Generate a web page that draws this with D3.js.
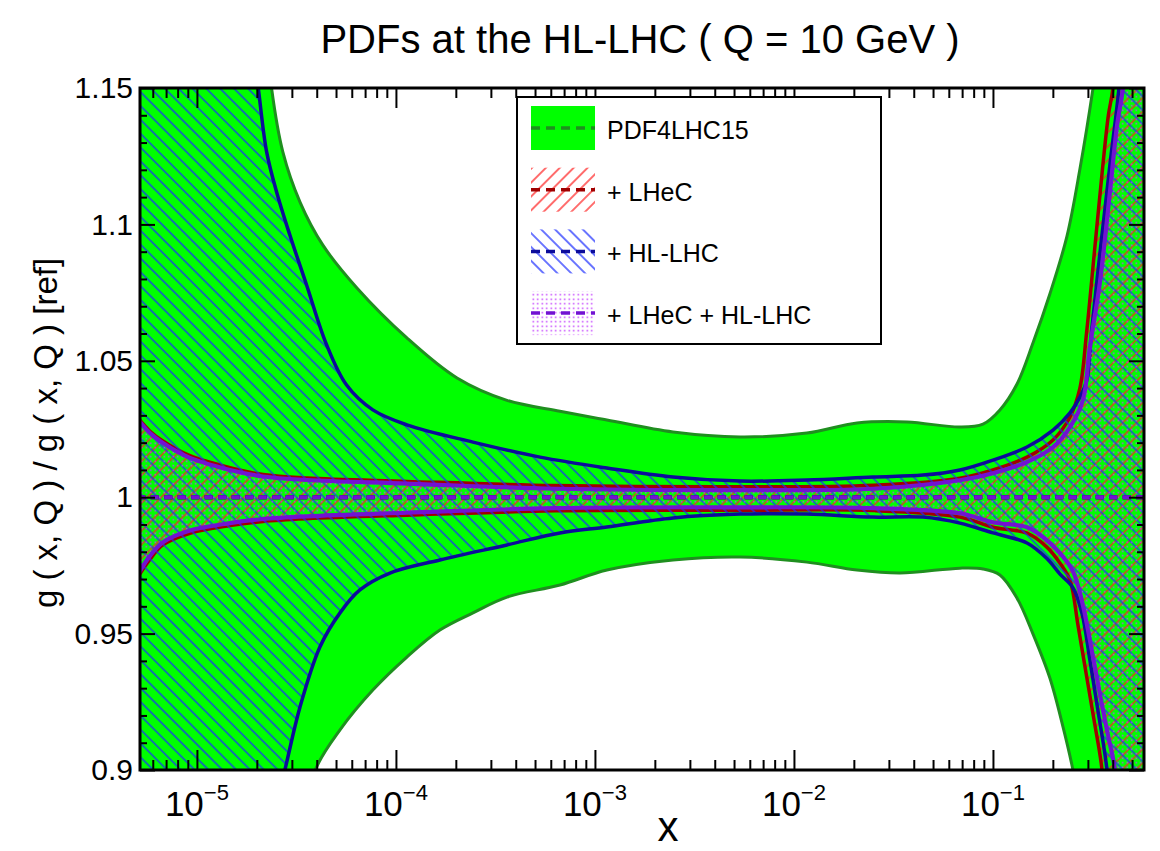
<!DOCTYPE html>
<html><head><meta charset="utf-8">
<script src="https://cdn.jsdelivr.net/npm/d3@7"></script>
<style>body{margin:0;background:#fff} text{font-family:"Liberation Sans",Arial,Helvetica,sans-serif;fill:#000}</style>
</head><body><svg id="c" width="1160" height="851"></svg>
<script>
// ---------- data (x given as log10(x), y = ratio to reference) ----------
const title = "PDFs at the HL-LHC ( Q = 10 GeV )";
const yLabel = "g ( x, Q ) / g ( x, Q ) [ref]";
const xLabel = "x";
const seriesNames = ["PDF4LHC15", "+ LHeC", "+ HL-LHC", "+ LHeC + HL-LHC"];
const xTickExponents = [-5, -4, -3, -2, -1];
const yTicks = [0.9, 0.95, 1, 1.05, 1.1, 1.15];
const yTickLabels = ["0.9", "0.95", "1", "1.05", "1.1", "1.15"];

const pdf4lhcUpper = [[-5.30,1.20],[-4.69,1.20],[-4.625,1.15],[-4.568,1.1265],[-4.482,1.1082],[-4.367,1.0924],[-4.196,1.0767],[-3.945,1.0584],[-3.693,1.0437],[-3.442,1.0355],[-3.176,1.0315],[-2.94,1.0283],[-2.608,1.0239],[-2.271,1.0221],[-1.935,1.0235],[-1.683,1.0272],[-1.432,1.0276],[-1.166,1.0257],[-1.05,1.0268],[-0.965,1.032],[-0.879,1.0415],[-0.799,1.0565],[-0.714,1.0745],[-0.628,1.0957],[-0.563,1.1203],[-0.497,1.15],[-0.46,1.17],[-0.2,1.17]];
const pdf4lhcLower = [[-5.30,0.88],[-4.46,0.88],[-4.405,0.90],[-4.281,0.9147],[-4.116,0.9293],[-3.945,0.9414],[-3.779,0.9513],[-3.613,0.9576],[-3.442,0.9634],[-3.176,0.9678],[-2.94,0.9733],[-2.608,0.9770],[-2.271,0.9781],[-1.935,0.9762],[-1.683,0.9733],[-1.467,0.9722],[-1.166,0.9740],[-1.05,0.9737],[-0.965,0.9715],[-0.879,0.9630],[-0.799,0.9499],[-0.714,0.9337],[-0.648,0.9158],[-0.598,0.90],[-0.55,0.88],[-0.2,0.88]];

const lhecUpper = [[-5.29,1.0285],[-5.236,1.0242],[-5.171,1.0206],[-5.035,1.0152],[-4.834,1.0108],[-4.668,1.0083],[-4.447,1.0070],[-3.945,1.0058],[-3.2,1.0043],[-2.27,1.0038],[-1.6,1.0044],[-1.166,1.0070],[-1.0,1.0100],[-0.829,1.0147],[-0.698,1.0210],[-0.613,1.0294],[-0.563,1.040],[-0.53,1.06],[-0.49,1.09],[-0.45,1.12],[-0.42,1.14],[-0.397,1.15],[-0.385,1.17],[-0.2,1.17]];
const lhecLower = [[-5.29,0.9715],[-5.236,0.9772],[-5.171,0.9825],[-5.035,0.9868],[-4.834,0.9896],[-4.668,0.9911],[-4.447,0.9921],[-3.945,0.9934],[-3.2,0.9950],[-2.27,0.9952],[-1.6,0.9951],[-1.166,0.9927],[-1.0,0.9890],[-0.829,0.9868],[-0.729,0.9817],[-0.663,0.9758],[-0.613,0.9696],[-0.573,0.9532],[-0.533,0.9359],[-0.492,0.9183],[-0.452,0.90],[-0.44,0.88],[-0.2,0.88]];

const hllhcUpper = [[-5.30,1.17],[-4.73,1.17],[-4.692,1.15],[-4.650,1.1267],[-4.600,1.112],[-4.533,1.0961],[-4.449,1.0778],[-4.348,1.0558],[-4.248,1.0411],[-4.116,1.032],[-3.945,1.0265],[-3.613,1.0202],[-3.276,1.0147],[-2.94,1.0107],[-2.608,1.0074],[-2.271,1.0059],[-1.935,1.0063],[-1.603,1.0074],[-1.352,1.0081],[-1.166,1.01],[-1.0,1.0136],[-0.829,1.0184],[-0.698,1.0246],[-0.613,1.0309],[-0.563,1.0367],[-0.528,1.043],[-0.503,1.062],[-0.457,1.093],[-0.412,1.122],[-0.367,1.15],[-0.35,1.17],[-0.2,1.17]];
const hllhcLower = [[-5.30,0.88],[-4.625,0.88],[-4.558,0.90],[-4.482,0.9231],[-4.382,0.9451],[-4.281,0.9576],[-4.181,0.9660],[-4.030,0.9722],[-3.779,0.9770],[-3.442,0.9825],[-3.176,0.9869],[-2.94,0.9891],[-2.608,0.9924],[-2.271,0.9938],[-1.935,0.9938],[-1.603,0.9927],[-1.352,0.9927],[-1.166,0.9905],[-1.0,0.9869],[-0.829,0.9832],[-0.729,0.9775],[-0.663,0.9718],[-0.598,0.9668],[-0.553,0.9575],[-0.513,0.9403],[-0.477,0.9238],[-0.427,0.90],[-0.41,0.88],[-0.2,0.88]];

const bothUpper = [[-5.29,1.0279],[-5.236,1.0235],[-5.171,1.0199],[-5.035,1.0144],[-4.834,1.0100],[-4.668,1.0076],[-4.447,1.0063],[-3.945,1.0050],[-3.2,1.0031],[-2.27,1.0026],[-1.6,1.0031],[-1.166,1.0062],[-1.0,1.0088],[-0.829,1.0129],[-0.698,1.0184],[-0.613,1.0257],[-0.548,1.0356],[-0.513,1.055],[-0.462,1.079],[-0.412,1.112],[-0.377,1.136],[-0.347,1.15],[-0.335,1.17],[-0.2,1.17]];
const bothLower = [[-5.29,0.9725],[-5.236,0.9785],[-5.171,0.9835],[-5.035,0.9878],[-4.834,0.9905],[-4.668,0.9920],[-4.447,0.9930],[-3.945,0.9943],[-3.2,0.9960],[-2.27,0.9963],[-1.6,0.9960],[-1.166,0.9941],[-1.0,0.9908],[-0.829,0.9890],[-0.749,0.9854],[-0.663,0.9795],[-0.598,0.9728],[-0.553,0.962],[-0.513,0.9477],[-0.462,0.9275],[-0.422,0.9128],[-0.387,0.90],[-0.375,0.88],[-0.2,0.88]];

const centralValues = [[-5.30,1.0],[-0.2,1.0]];

// ---------- layout ----------
const L = 140, R = 1144, T = 88, B = 770;
const svg = d3.select("#c");
const x = d3.scaleLog().domain([Math.pow(10,-5.286), Math.pow(10,-0.241)]).range([L, R]);
const y = d3.scaleLinear().domain([0.9, 1.15]).range([B, T]);

const defs = svg.append("defs");
defs.append("clipPath").attr("id","plotclip").append("rect")
  .attr("x",L).attr("y",T).attr("width",R-L).attr("height",B-T);
function hatch(id, angle, color){
  const s = 9.8;
  const p = defs.append("pattern").attr("id",id).attr("patternUnits","userSpaceOnUse")
    .attr("width",s).attr("height",s).attr("patternTransform",`rotate(${angle})`);
  p.append("line").attr("x1",s/2).attr("y1",-1).attr("x2",s/2).attr("y2",s+1)
    .attr("stroke",color).attr("stroke-width",1.3);
}
hatch("hatchRed", 45, "#ff2020");
hatch("hatchBlue", -45, "#1a2cff");
(function(){
  const p = defs.append("pattern").attr("id","dots").attr("patternUnits","userSpaceOnUse")
    .attr("width",4.5).attr("height",4.5);
  p.append("rect").attr("x",1.5).attr("y",1.5).attr("width",1.5).attr("height",1.5).attr("fill","#c13cff");
})();

const line = d3.line().x(d => x(Math.pow(10,d[0]))).y(d => y(d[1])).curve(d3.curveCatmullRom.alpha(0.5));
function bandPath(up, lo){
  const a = line(up), b = line(lo.slice().reverse());
  return a + "L" + b.slice(1) + "Z";
}

const plot = svg.append("g").attr("clip-path","url(#plotclip)");
const bands = [
  {up: pdf4lhcUpper, lo: pdf4lhcLower, fill: "#00ff00", edge: "#1f8f1f", w: 3},
  {up: lhecUpper, lo: lhecLower, fill: "url(#hatchRed)", edge: "#a00000", w: 3.5},
  {up: hllhcUpper, lo: hllhcLower, fill: "url(#hatchBlue)", edge: "#0c0c9a", w: 3.5},
  {up: bothUpper, lo: bothLower, fill: "url(#dots)", edge: "#7212d2", w: 4.2}
];
bands.forEach(b => {
  plot.append("path").attr("d", bandPath(b.up, b.lo)).attr("fill", b.fill).attr("stroke","none");
  plot.append("path").attr("d", line(b.up)).attr("fill","none").attr("stroke", b.edge).attr("stroke-width", b.w);
  plot.append("path").attr("d", line(b.lo)).attr("fill","none").attr("stroke", b.edge).attr("stroke-width", b.w);
});
bands.forEach(b => {
  plot.append("path").attr("d", d3.line().x(d => x(Math.pow(10,d[0]))).y(d => y(d[1]))(centralValues))
    .attr("fill","none").attr("stroke", b.edge).attr("stroke-width", 4).attr("stroke-dasharray","8,5.5");
});

// ---------- axes ----------
const xMajor = xTickExponents.map(e => Math.pow(10,e));
const xMinor = [];
for (let e = -6; e <= 0; e++) for (let k = 2; k <= 9; k++) {
  const v = k*Math.pow(10,e); if (v >= x.domain()[0] && v <= x.domain()[1]) xMinor.push(v);
}
const yMinor = [];
for (let i = 91; i <= 114; i++) if (i % 5 !== 0) yMinor.push(i/100);

function styleAxis(g){ g.select(".domain").remove(); g.selectAll(".tick line").attr("stroke","#000").attr("stroke-width",2); }
svg.append("g").attr("transform",`translate(0,${B})`).call(d3.axisBottom(x).tickValues(xMajor).tickSize(-20).tickFormat("")).call(styleAxis);
svg.append("g").attr("transform",`translate(0,${B})`).call(d3.axisBottom(x).tickValues(xMinor).tickSize(-10).tickFormat("")).call(styleAxis);
svg.append("g").attr("transform",`translate(0,${T})`).call(d3.axisTop(x).tickValues(xMajor).tickSize(-20).tickFormat("")).call(styleAxis);
svg.append("g").attr("transform",`translate(0,${T})`).call(d3.axisTop(x).tickValues(xMinor).tickSize(-10).tickFormat("")).call(styleAxis);
const yl = svg.append("g").attr("transform",`translate(${L},0)`)
  .call(d3.axisLeft(y).tickValues(yTicks).tickSize(-15).tickPadding(7).tickFormat((d,i) => yTickLabels[i])).call(styleAxis);
yl.selectAll(".tick text").attr("font-size",30).attr("font-family",null).attr("fill","#000");
svg.append("g").attr("transform",`translate(${L},0)`).call(d3.axisLeft(y).tickValues(yMinor).tickSize(-7).tickFormat("")).call(styleAxis);
svg.append("g").attr("transform",`translate(${R},0)`).call(d3.axisRight(y).tickValues(yTicks).tickSize(-15).tickFormat("")).call(styleAxis);
svg.append("g").attr("transform",`translate(${R},0)`).call(d3.axisRight(y).tickValues(yMinor).tickSize(-7).tickFormat("")).call(styleAxis);

// x tick labels with superscripts
xTickExponents.forEach(e => {
  const t = svg.append("text").attr("x", x(Math.pow(10,e))).attr("y", 816).attr("text-anchor","middle");
  t.append("tspan").attr("font-size",35).text("10");
  t.append("tspan").attr("font-size",22).attr("dy",-16).text("\u2212" + Math.abs(e));
});

svg.append("rect").attr("x",L).attr("y",T).attr("width",R-L).attr("height",B-T)
  .attr("fill","none").attr("stroke","#000").attr("stroke-width",3);

// titles
svg.append("text").attr("x",640).attr("y",53).attr("text-anchor","middle").attr("font-size",40).text(title);
svg.append("text").attr("transform","translate(57,433) rotate(-90)").attr("text-anchor","middle").attr("font-size",33).text(yLabel);
svg.append("text").attr("x",668).attr("y",841).attr("text-anchor","middle").attr("font-size",42).text(xLabel);

// ---------- legend ----------
const lg = svg.append("g");
lg.append("rect").attr("x",517).attr("y",97).attr("width",364).attr("height",247)
  .attr("fill","#fff").attr("stroke","#000").attr("stroke-width",2);
bands.forEach((b,i) => {
  const top = 106 + i*61.7;
  lg.append("rect").attr("x",531).attr("y",top).attr("width",64).attr("height",44).attr("fill", b.fill);
  lg.append("line").attr("x1",531).attr("x2",595).attr("y1",top+22).attr("y2",top+22)
    .attr("stroke", b.edge).attr("stroke-width",3.5).attr("stroke-dasharray","9,6");
  lg.append("text").attr("x",607).attr("y",top+33).attr("font-size",25).text(seriesNames[i]);
});
</script></body></html>
